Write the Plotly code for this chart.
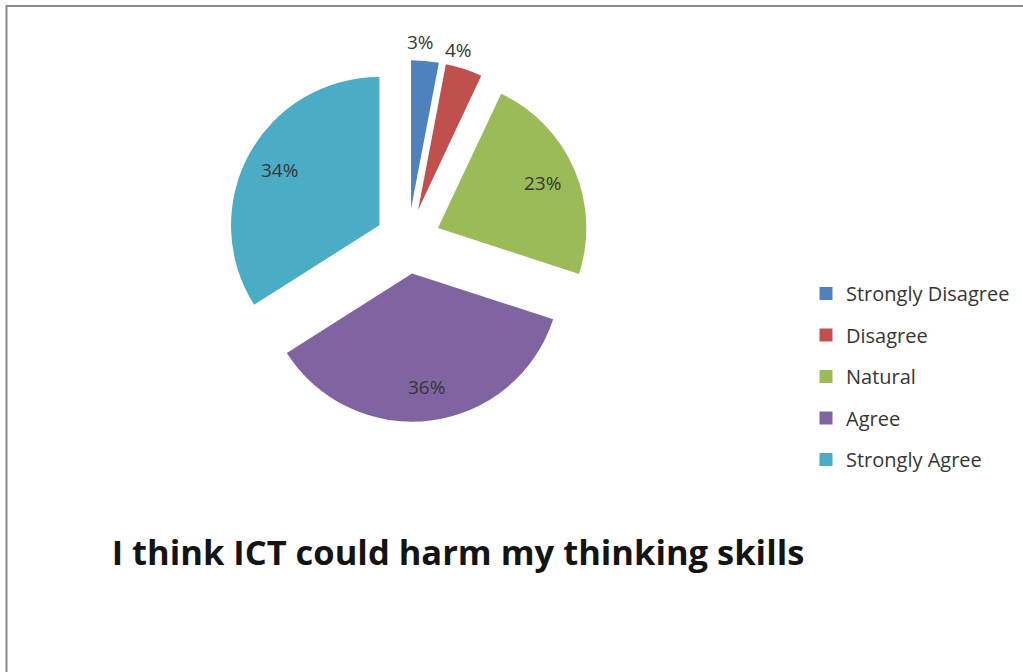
import math
import plotly.graph_objects as go

# Survey responses
categories = ["Strongly Disagree", "Disagree", "Natural", "Agree", "Strongly Agree"]
percentages = [3, 4, 23, 36, 34]
colors = ["#4F81BD", "#C0504D", "#9BBB59", "#8064A2", "#4BACC6"]
label_places = ["outside", "outside", "inside", "inside", "inside"]
title_text = "I think ICT could harm my thinking skills"

W, H = 1023, 672
FONT = "Open Sans"
TEXT_COLOR = "#363636"
PULL = 0.22

# pie placement (paper fractions)
DOM_X = [227 / W, 589 / W]
DOM_Y = [1 - 422 / H, 1 - 60 / H]

fig = go.Figure()

fig.add_trace(
    go.Pie(
        labels=categories,
        values=percentages,
        sort=False,
        direction="clockwise",
        rotation=0,
        pull=[PULL] * len(percentages),
        marker=dict(colors=colors, line=dict(width=0)),
        textinfo="none",
        domain=dict(x=DOM_X, y=DOM_Y),
        hoverinfo="label+percent",
        showlegend=False,
    )
)

# legend entries, one group each so they can be spaced apart
for name, col in zip(categories, colors):
    fig.add_trace(
        go.Scatter(
            x=[None],
            y=[None],
            mode="markers",
            name=name,
            legendgroup=name,
            marker=dict(symbol="square", size=13, color=col),
            hoverinfo="skip",
        )
    )

# percentage labels placed along each slice's mid angle
cx = (DOM_X[0] + DOM_X[1]) / 2 * W
cy = (1 - (DOM_Y[0] + DOM_Y[1]) / 2) * H
r = min((DOM_X[1] - DOM_X[0]) * W, (DOM_Y[1] - DOM_Y[0]) * H) / 2 / (1 + PULL)
total = sum(percentages)
annotations = []
cum = 0.0
for val, place in zip(percentages, label_places):
    mid = 2 * math.pi * (cum + val / 2) / total
    cum += val
    if place == "inside":
        dist = r * (PULL + 0.77)
        anchor = dict(yanchor="middle", yshift=0, xshift=0)
    else:
        dist = r * (1 + PULL)
        anchor = dict(yanchor="bottom", yshift=4, xshift=-5)
    px = cx + dist * math.sin(mid)
    py = cy - dist * math.cos(mid)
    annotations.append(
        dict(
            x=px / W,
            y=1 - py / H,
            xref="paper",
            yref="paper",
            text=f"{val}%",
            showarrow=False,
            xanchor="center",
            font=dict(family=FONT, size=19, color=TEXT_COLOR),
            **anchor,
        )
    )

fig.update_layout(
    width=W,
    height=H,
    margin=dict(l=0, r=0, t=0, b=0, autoexpand=False),
    paper_bgcolor="white",
    plot_bgcolor="white",
    font=dict(family=FONT, color=TEXT_COLOR),
    xaxis=dict(visible=False),
    yaxis=dict(visible=False),
    showlegend=True,
    legend=dict(
        x=806 / W,
        y=1 - 274 / H,
        xanchor="left",
        yanchor="top",
        tracegroupgap=12.5,
        font=dict(family=FONT, size=20, color=TEXT_COLOR),
        bgcolor="rgba(0,0,0,0)",
    ),
    title=dict(
        text="<b>" + title_text + "</b>",
        x=458 / W,
        xanchor="center",
        y=1 - 553 / H,
        yanchor="middle",
        font=dict(family=FONT, size=34.5, color="#141414"),
    ),
    annotations=annotations,
    shapes=[
        dict(
            type="rect",
            xref="paper",
            yref="paper",
            x0=6.5 / W,
            x1=1.01,
            y0=-0.02,
            y1=1 - 6 / H,
            line=dict(color="#8a8a8a", width=2),
            fillcolor="rgba(0,0,0,0)",
            layer="below",
        )
    ],
)

fig.write_html("out.html")
